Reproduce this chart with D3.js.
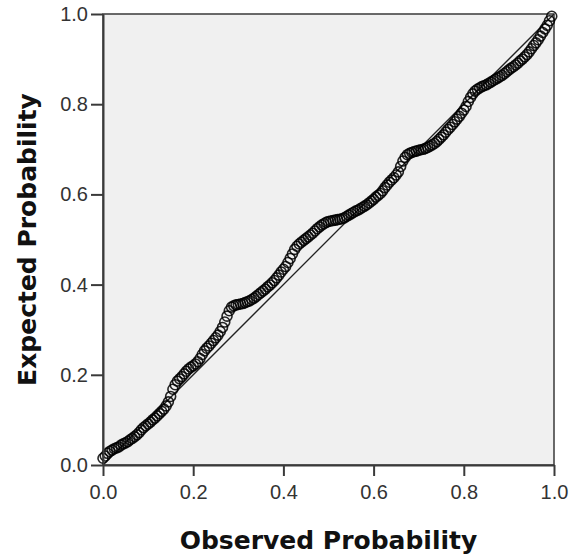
<!DOCTYPE html>
<html>
<head>
<meta charset="utf-8">
<script src="https://cdn.jsdelivr.net/npm/d3@7"></script>
<style>
  body { margin: 0; background: #fff; }
  .tick text { font-family: "Liberation Sans", Arial, sans-serif; font-size: 20px; fill: #333; }
  .titulo { font-family: "DejaVu Sans", sans-serif; font-weight: bold; font-size: 25px; fill: #111; }
</style>
</head>
<body>
<div id="graf"></div>
<script>
// Datos
const observado = [
  0.000, 0.005, 0.010, 0.015, 0.020, 0.025, 0.030, 0.035, 0.040, 0.045,
  0.050, 0.055, 0.060, 0.065, 0.070, 0.075, 0.080, 0.085, 0.090, 0.095,
  0.100, 0.105, 0.110, 0.115, 0.120, 0.125, 0.130, 0.135, 0.140, 0.145,
  0.150, 0.155, 0.160, 0.165, 0.170, 0.175, 0.180, 0.185, 0.190, 0.195,
  0.200, 0.205, 0.210, 0.215, 0.220, 0.225, 0.230, 0.235, 0.240, 0.245,
  0.250, 0.255, 0.260, 0.265, 0.270, 0.275, 0.280, 0.285, 0.290, 0.295,
  0.300, 0.305, 0.310, 0.315, 0.320, 0.325, 0.330, 0.335, 0.340, 0.345,
  0.350, 0.355, 0.360, 0.365, 0.370, 0.375, 0.380, 0.385, 0.390, 0.395,
  0.400, 0.405, 0.410, 0.415, 0.420, 0.425, 0.430, 0.435, 0.440, 0.445,
  0.450, 0.455, 0.460, 0.465, 0.470, 0.475, 0.480, 0.485, 0.490, 0.495,
  0.500, 0.505, 0.510, 0.515, 0.520, 0.525, 0.530, 0.535, 0.540, 0.545,
  0.550, 0.555, 0.560, 0.565, 0.570, 0.575, 0.580, 0.585, 0.590, 0.595,
  0.600, 0.605, 0.610, 0.615, 0.620, 0.625, 0.630, 0.635, 0.640, 0.645,
  0.650, 0.655, 0.660, 0.665, 0.670, 0.675, 0.680, 0.685, 0.690, 0.695,
  0.700, 0.705, 0.710, 0.715, 0.720, 0.725, 0.730, 0.735, 0.740, 0.745,
  0.750, 0.755, 0.760, 0.765, 0.770, 0.775, 0.780, 0.785, 0.790, 0.795,
  0.800, 0.805, 0.810, 0.815, 0.820, 0.825, 0.830, 0.835, 0.840, 0.845,
  0.850, 0.855, 0.860, 0.865, 0.870, 0.875, 0.880, 0.885, 0.890, 0.895,
  0.900, 0.905, 0.910, 0.915, 0.920, 0.925, 0.930, 0.935, 0.940, 0.945,
  0.950, 0.955, 0.960, 0.965, 0.970, 0.975, 0.980, 0.985, 0.990, 0.995
]
const esperado = [
  0.015, 0.020, 0.026, 0.030, 0.033, 0.036, 0.038, 0.040, 0.044, 0.047,
  0.049, 0.052, 0.056, 0.059, 0.063, 0.067, 0.072, 0.078, 0.083, 0.087,
  0.091, 0.095, 0.100, 0.104, 0.109, 0.114, 0.119, 0.124, 0.131, 0.140,
  0.152, 0.168, 0.178, 0.186, 0.191, 0.196, 0.202, 0.208, 0.213, 0.217,
  0.220, 0.224, 0.229, 0.236, 0.245, 0.253, 0.259, 0.264, 0.270, 0.276,
  0.282, 0.288, 0.296, 0.305, 0.317, 0.330, 0.342, 0.350, 0.353, 0.355,
  0.356, 0.357, 0.358, 0.360, 0.362, 0.364, 0.367, 0.370, 0.374, 0.378,
  0.382, 0.386, 0.390, 0.395, 0.399, 0.404, 0.409, 0.415, 0.421, 0.428,
  0.434, 0.440, 0.449, 0.458, 0.468, 0.478, 0.485, 0.490, 0.494, 0.498,
  0.502, 0.506, 0.510, 0.514, 0.519, 0.524, 0.528, 0.532, 0.535, 0.538,
  0.540, 0.541, 0.542, 0.543, 0.544, 0.545, 0.546, 0.548, 0.551, 0.554,
  0.557, 0.560, 0.563, 0.565, 0.568, 0.571, 0.574, 0.577, 0.581, 0.585,
  0.589, 0.594, 0.598, 0.602, 0.608, 0.615, 0.621, 0.627, 0.632, 0.637,
  0.643, 0.650, 0.662, 0.674, 0.682, 0.688, 0.691, 0.693, 0.695, 0.696,
  0.698, 0.699, 0.700, 0.702, 0.704, 0.707, 0.710, 0.713, 0.717, 0.722,
  0.727, 0.732, 0.738, 0.744, 0.749, 0.755, 0.761, 0.767, 0.773, 0.780,
  0.787, 0.795, 0.806, 0.815, 0.823, 0.829, 0.833, 0.836, 0.839, 0.841,
  0.843, 0.846, 0.849, 0.852, 0.855, 0.858, 0.861, 0.864, 0.868, 0.872,
  0.876, 0.880, 0.883, 0.887, 0.891, 0.896, 0.900, 0.905, 0.910, 0.916,
  0.923, 0.930, 0.936, 0.943, 0.951, 0.959, 0.967, 0.975, 0.985, 0.995
]
const ticks = [0.0, 0.2, 0.4, 0.6, 0.8, 1.0]
const diagonal = [0, 1]

const tituloX = "Observed Probability"
const tituloY = "Expected Probability"

// Dimensiones
const anchoTotal = 571
const altoTotal = 559
const margins = { top: 14, right: 17, bottom: 94, left: 103 }
const ancho = anchoTotal - margins.left - margins.right
const alto = altoTotal - margins.top - margins.bottom

const svg = d3.select("#graf")
  .append("svg")
  .attr("width", anchoTotal)
  .attr("height", altoTotal)

const g = svg.append("g")
  .attr("transform", `translate(${margins.left}, ${margins.top})`)

// Escaladores
const x = d3.scaleLinear().domain([0, 1]).range([0, ancho])
const y = d3.scaleLinear().domain([0, 1]).range([alto, 0])

// Fondo
g.append("rect")
  .attr("width", ancho)
  .attr("height", alto)
  .attr("fill", "#f0f0f0")
  .attr("stroke", "#3a3a3a")
  .attr("stroke-width", 1.5)

// Linea de referencia
g.append("line")
  .attr("x1", x(diagonal[0]))
  .attr("y1", y(diagonal[0]))
  .attr("x2", x(diagonal[1]))
  .attr("y2", y(diagonal[1]))
  .attr("stroke", "#222")
  .attr("stroke-width", 1.3)

// Puntos
const datos = observado.map((d, i) => ({ obs: d, esp: esperado[i] }))
g.append("g")
  .selectAll("circle")
  .data(datos)
  .enter()
  .append("circle")
  .attr("cx", (d) => x(d.obs))
  .attr("cy", (d) => y(d.esp))
  .attr("r", 5)
  .attr("fill", "none")
  .attr("stroke", "#000")
  .attr("stroke-opacity", 0.85)
  .attr("stroke-width", 1.6)

// Ejes
const fmt = d3.format(".1f")
const xAxis = d3.axisBottom(x).tickValues(ticks).tickFormat(fmt).tickSize(11).tickSizeOuter(0).tickPadding(9)
const yAxis = d3.axisLeft(y).tickValues(ticks).tickFormat(fmt).tickSize(12).tickSizeOuter(0).tickPadding(3)

const xAxisGroup = g.append("g")
  .attr("transform", `translate(0, ${alto})`)
  .call(xAxis)
const yAxisGroup = g.append("g").call(yAxis)

;[xAxisGroup, yAxisGroup].forEach((a) => {
  a.select(".domain").attr("stroke", "#3a3a3a").attr("stroke-width", 2)
  a.selectAll(".tick line").attr("stroke", "#3a3a3a").attr("stroke-width", 2)
})

// Titulos
svg.append("text")
  .attr("class", "titulo")
  .attr("x", margins.left + ancho / 2)
  .attr("y", 549)
  .attr("text-anchor", "middle")
  .text(tituloX)

svg.append("text")
  .attr("class", "titulo")
  .attr("transform", `translate(36, ${margins.top + alto / 2}) rotate(-90)`)
  .attr("text-anchor", "middle")
  .text(tituloY)
</script>
</body>
</html>
